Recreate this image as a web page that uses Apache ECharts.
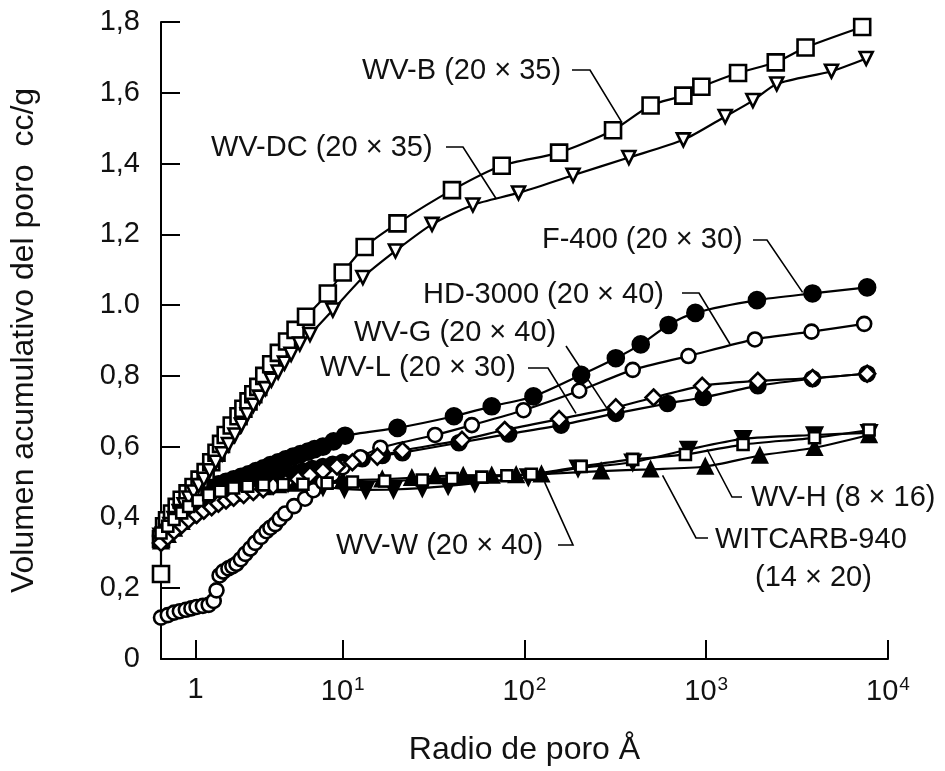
<!DOCTYPE html>
<html>
<head>
<meta charset="utf-8">
<title>Volumen acumulativo del poro</title>
<script src="https://cdn.jsdelivr.net/npm/echarts@6/dist/echarts.min.js"></script>
<style>
  html, body { margin: 0; padding: 0; background: #fff; }
  #chart { width: 945px; height: 771px; }
</style>
</head>
<body>
<div id="chart"></div>
<script>
// ticks
const xTickValues = [1.55, 10, 100, 1000, 10000];
const xTickLabels = ['{n|1}', '{n|10}{s|1}', '{n|10}{s|2}', '{n|10}{s|3}', '{n|10}{s|4}'];
const yTickLabels = ['0', '0,2', '0,4', '0,6', '0,8', '1.0', '1,2', '1,4', '1,6', '1,8'];

// series: [radio Å, volumen cc/g]
const wvB = [[1.0,0.24],[1.0,0.339],[1.04,0.375],[1.08,0.392],[1.15,0.411],[1.22,0.43],[1.30,0.45],[1.40,0.468],[1.51,0.486],[1.63,0.507],[1.76,0.528],[1.89,0.556],[2.02,0.583],[2.14,0.608],[2.27,0.633],[2.45,0.66],[2.67,0.686],[2.84,0.707],[3.03,0.728],[3.22,0.748],[3.43,0.769],[3.7,0.80],[4.04,0.833],[4.45,0.865],[4.94,0.897],[5.5,0.93],[6.28,0.967],[8.28,1.033],[10,1.092],[13.2,1.164],[20,1.231],[39.9,1.325],[74.9,1.394],[155,1.431],[307,1.494],[494,1.564],[748,1.592],[940,1.617],[1496,1.656],[2413,1.686],[3518,1.728],[7211,1.786]];
const wvDC = [[1.0,0.328],[1.07,0.361],[1.12,0.38],[1.18,0.397],[1.26,0.417],[1.34,0.436],[1.42,0.455],[1.51,0.472],[1.61,0.49],[1.72,0.508],[1.85,0.532],[2.0,0.556],[2.17,0.58],[2.35,0.606],[2.55,0.633],[2.77,0.661],[2.98,0.69],[3.22,0.717],[3.48,0.74],[3.75,0.764],[4.05,0.788],[4.41,0.811],[4.78,0.836],[5.2,0.861],[5.8,0.89],[6.6,0.917],[8.82,0.986],[12.9,1.078],[19.5,1.153],[31,1.228],[52,1.283],[92.7,1.317],[185,1.367],[375,1.417],[748,1.467],[1271,1.533],[1806,1.578],[2443,1.625],[4886,1.661],[7586,1.697]];
const f400 = [[1.0,0.347],[1.05,0.368],[1.11,0.389],[1.18,0.408],[1.25,0.425],[1.36,0.443],[1.48,0.458],[1.6,0.47],[1.72,0.478],[1.9,0.487],[2.07,0.494],[2.28,0.501],[2.51,0.508],[2.76,0.515],[3.03,0.522],[3.33,0.531],[3.66,0.539],[4.0,0.548],[4.41,0.556],[4.85,0.564],[5.33,0.572],[5.85,0.579],[6.44,0.586],[7.0,0.593],[7.78,0.6],[8.9,0.615],[10.3,0.631],[20,0.653],[40.9,0.686],[66,0.714],[112,0.742],[205,0.803],[318,0.85],[436,0.889],[620,0.944],[871,0.978],[1900,1.014],[3843,1.033],[7678,1.05]];
const hd3000 = [[1.0,0.117],[1.09,0.124],[1.18,0.131],[1.27,0.135],[1.37,0.139],[1.47,0.143],[1.57,0.147],[1.7,0.15],[1.83,0.153],[1.95,0.164],[2.02,0.194],[2.1,0.236],[2.2,0.247],[2.35,0.256],[2.47,0.262],[2.6,0.269],[2.75,0.282],[2.91,0.297],[3.1,0.312],[3.3,0.328],[3.55,0.345],[3.8,0.361],[4.0,0.371],[4.25,0.381],[4.5,0.396],[4.82,0.411],[5.4,0.432],[6.2,0.453],[6.9,0.477],[7.78,0.5],[8.8,0.521],[10,0.542],[12.5,0.57],[16.1,0.597],[32.2,0.633],[51.3,0.661],[98.8,0.703],[200,0.758],[394,0.817],[798,0.856],[1852,0.903],[3795,0.925],[7396,0.947]];
const wvG = [[1.0,0.339],[1.07,0.36],[1.15,0.381],[1.24,0.398],[1.34,0.414],[1.47,0.428],[1.61,0.439],[1.77,0.449],[1.95,0.458],[2.14,0.465],[2.35,0.472],[2.58,0.479],[2.84,0.486],[3.12,0.492],[3.43,0.497],[3.78,0.503],[4.14,0.508],[4.55,0.514],[5.0,0.519],[5.5,0.525],[6.04,0.531],[6.8,0.538],[7.78,0.544],[8.8,0.55],[10,0.556],[12.8,0.566],[16.5,0.575],[21.3,0.583],[43.6,0.611],[81.8,0.636],[159,0.661],[318,0.694],[612,0.722],[963,0.739],[1923,0.772],[3843,0.792],[7678,0.806]];
const wvL = [[1.0,0.328],[1.09,0.345],[1.18,0.361],[1.3,0.378],[1.42,0.394],[1.57,0.407],[1.72,0.419],[1.9,0.429],[2.07,0.439],[2.28,0.448],[2.51,0.456],[2.85,0.464],[3.22,0.472],[3.65,0.48],[4.14,0.489],[4.85,0.498],[5.68,0.508],[6.6,0.52],[7.78,0.531],[9.3,0.544],[11.3,0.556],[15.5,0.572],[21.3,0.589],[45.3,0.619],[77.8,0.647],[155,0.678],[318,0.711],[513,0.739],[950,0.772],[1923,0.786],[3843,0.794],[7678,0.806]];
const wvW = [[1.0,0.347],[1.07,0.365],[1.15,0.383],[1.24,0.40],[1.34,0.417],[1.47,0.431],[1.61,0.444],[1.77,0.456],[1.95,0.467],[2.2,0.475],[2.51,0.483],[2.9,0.489],[3.43,0.494],[4.1,0.497],[5.0,0.497],[6.2,0.492],[7.78,0.486],[10.2,0.481],[13.4,0.478],[19,0.479],[27.4,0.483],[38,0.489],[53.3,0.497],[105,0.514],[197,0.539],[394,0.556],[798,0.592],[1594,0.622],[3943,0.633],[7870,0.639]];
const wvH = [[1.0,0.356],[1.09,0.375],[1.18,0.394],[1.3,0.413],[1.42,0.431],[1.6,0.448],[1.83,0.464],[2.12,0.474],[2.51,0.483],[3.0,0.488],[3.66,0.492],[4.7,0.493],[6.04,0.494],[8.2,0.497],[11.3,0.5],[17,0.503],[27.4,0.506],[40,0.51],[58.2,0.514],[80,0.518],[109,0.522],[205,0.544],[394,0.564],[768,0.578],[1594,0.606],[3943,0.625],[7870,0.647]];
const witcarb = [[1.0,0.333],[1.09,0.351],[1.18,0.369],[1.3,0.388],[1.42,0.406],[1.57,0.42],[1.72,0.433],[1.95,0.446],[2.21,0.458],[2.58,0.468],[3.03,0.478],[3.65,0.486],[4.41,0.492],[5.5,0.496],[6.86,0.5],[10,0.504],[16.5,0.508],[24,0.512],[32.2,0.517],[46,0.518],[66,0.519],[90,0.52],[124,0.522],[264,0.531],[494,0.536],[988,0.544],[1973,0.575],[3943,0.597],[7870,0.633]];

// labels with leader lines: text position, leader start, and the data point it points to
const notes = [
  { text: 'WV-B (20 × 35)', x: 362, y: 71, lead: [[572, 70], [590, 70]], to: [340, 1.52] },
  { text: 'WV-DC (20 × 35)', x: 211, y: 148, lead: [[446, 147], [463, 147]], to: [70, 1.30] },
  { text: 'F-400 (20 × 30)', x: 542, y: 240, lead: [[753, 240], [767, 240]], to: [3390, 1.036] },
  { text: 'HD-3000 (20 × 40)', x: 423, y: 295, lead: [[682, 293], [699, 293]], to: [1350, 0.89] },
  { text: 'WV-G (20 × 40)', x: 354, y: 333, lead: [[566, 346]], to: [300, 0.69] },
  { text: 'WV-L (20 × 30)', x: 320, y: 368, lead: [[528, 368], [548, 368]], to: [192, 0.694] },
  { text: 'WV-W (20 × 40)', x: 336, y: 546, lead: [[558, 545], [573, 545]], to: [129, 0.5] },
  { text: 'WV-H (8 × 16)', x: 751, y: 498, lead: [[742, 497], [732, 497]], to: [1010, 0.592] },
  { text: 'WITCARB-940', x: 715, y: 540, lead: [[708, 538], [696, 538]], to: [575, 0.519] },
  { text: '(14 × 20)', x: 755, y: 578 }
];

const FONT = '"Liberation Sans", Arial, sans-serif';

const chart = echarts.init(document.getElementById('chart'));

const makeSeries = (name, data, symbol, size, filled, rotate) => ({
  name,
  type: 'line',
  data,
  symbol,
  symbolSize: size,
  symbolRotate: rotate || 0,
  smooth: 0.25,
  clip: false,
  lineStyle: { color: '#000', width: 2.2 },
  itemStyle: { color: filled ? '#000' : '#fff', borderColor: '#000', borderWidth: 2.6, opacity: 1 },
  emphasis: { disabled: true },
  z: filled ? 2 : 3
});

chart.setOption({
  animation: false,
  backgroundColor: '#fff',
  grid: { left: 157, right: 57, top: 22, bottom: 101 },
  xAxis: {
    type: 'log',
    logBase: 10,
    min: 1,
    max: 10000,
    name: 'Radio de poro Å',
    nameLocation: 'middle',
    nameGap: 75,
    nameTextStyle: { fontFamily: FONT, fontSize: 32, color: '#111' },
    axisLine: { show: true, lineStyle: { color: '#000', width: 2 } },
    axisTick: { show: true, inside: true, length: 19, lineStyle: { color: '#000', width: 2 }, customValues: xTickValues },
    minorTick: { show: false },
    splitLine: { show: false },
    axisLabel: {
      customValues: xTickValues,
      margin: 16,
      formatter: (v) => {
        let i = 0;
        xTickValues.forEach((t, k) => { if (Math.abs(Math.log10(t) - Math.log10(v)) < Math.abs(Math.log10(xTickValues[i]) - Math.log10(v))) i = k; });
        return xTickLabels[i];
      },
      rich: {
        n: { fontFamily: FONT, fontSize: 29, color: '#111' },
        s: { fontFamily: FONT, fontSize: 19, color: '#111', padding: [0, 0, 14, 1] }
      }
    }
  },
  yAxis: {
    type: 'value',
    min: 0,
    max: 1.8,
    interval: 0.2,
    name: 'Volumen acumulativo del poro  cc/g',
    nameLocation: 'middle',
    nameGap: 121,
    nameRotate: 90,
    nameTextStyle: { fontFamily: FONT, fontSize: 32, color: '#111' },
    axisLine: { show: true, lineStyle: { color: '#000', width: 2 } },
    axisTick: { show: true, inside: true, length: 19, lineStyle: { color: '#000', width: 2 } },
    splitLine: { show: false },
    axisLabel: {
      margin: 21,
      fontFamily: FONT,
      fontSize: 29,
      color: '#111',
      formatter: (v) => yTickLabels[Math.round(v / 0.2)]
    }
  },
  series: [
    makeSeries('WV-B (20 × 35)', wvB, 'rect', 16, false),
    makeSeries('WV-DC (20 × 35)', wvDC, 'triangle', 13, false, 180),
    makeSeries('F-400 (20 × 30)', f400, 'circle', 16, true),
    makeSeries('HD-3000 (20 × 40)', hd3000, 'circle', 14, false),
    makeSeries('WV-G (20 × 40)', wvG, 'circle', 15, true),
    makeSeries('WV-L (20 × 30)', wvL, 'diamond', 16, false),
    makeSeries('WV-W (20 × 40)', wvW, 'triangle', 15, true, 180),
    makeSeries('WV-H (8 × 16)', wvH, 'rect', 11, false),
    makeSeries('WITCARB-940 (14 × 20)', witcarb, 'triangle', 14, true)
  ]
});

// annotations
const graphics = [];
notes.forEach((n) => {
  graphics.push({
    type: 'text',
    x: n.x,
    y: n.y,
    style: { text: n.text, fontFamily: FONT, fontSize: 29, fill: '#111', verticalAlign: 'middle', align: 'left' },
    z: 10
  });
  if (n.to) {
    const end = chart.convertToPixel({ gridIndex: 0 }, n.to);
    graphics.push({
      type: 'polyline',
      shape: { points: n.lead.concat([end]) },
      style: { stroke: '#000', lineWidth: 1.6, fill: null },
      z: 10
    });
  }
});
chart.setOption({ graphic: graphics });
</script>
</body>
</html>
